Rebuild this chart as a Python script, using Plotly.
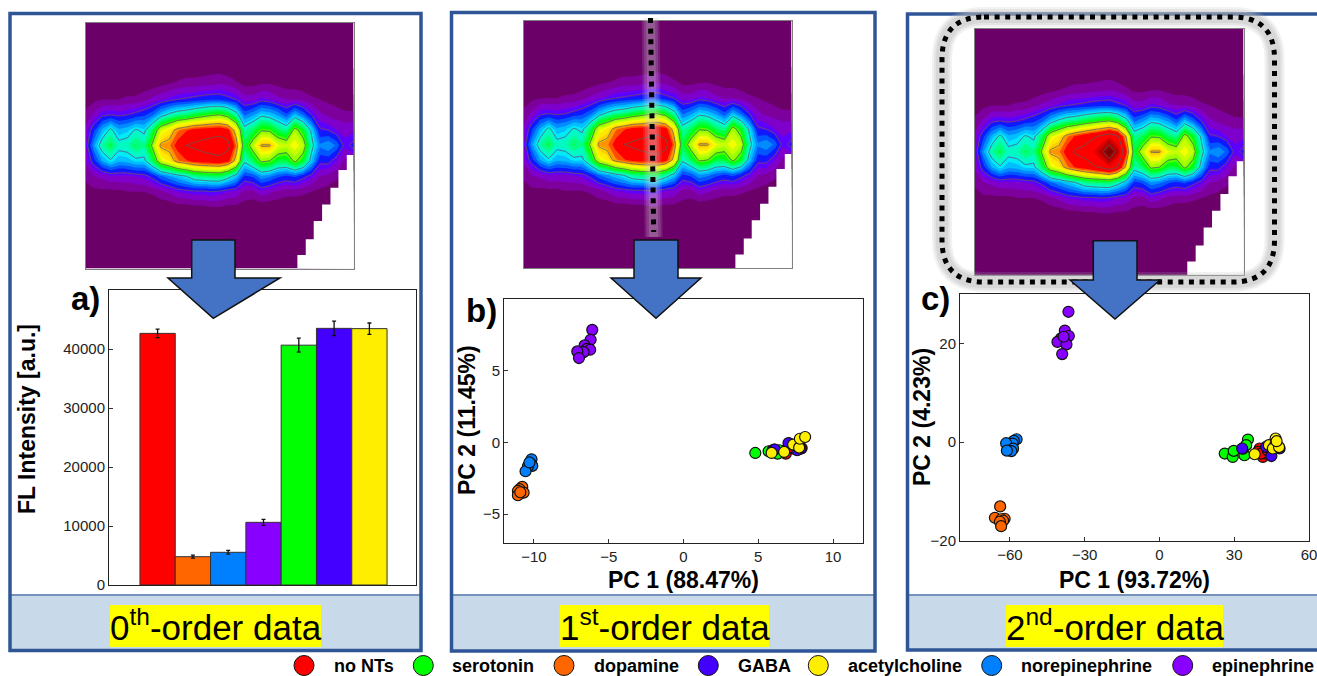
import plotly.graph_objects as go

W, H = 1317, 676
FONT = "Liberation Sans"

# ---- legend / groups
names = ["no NTs", "serotonin", "dopamine", "GABA", "acetylcholine", "norepinephrine", "epinephrine"]
colors = ["#ff0000", "#00ff00", "#ff6600", "#4400ff", "#ffee00", "#0080ff", "#8800ff"]
legend_marker_x = [304, 423.3, 564, 708.3, 818.3, 991.7, 1182.7]
legend_text_x = [332, 450, 591.7, 735.7, 845.7, 1019.3, 1210]

# ---- bars (panel a)
bar_names = ["no NTs", "dopamine", "norepinephrine", "epinephrine", "serotonin", "GABA", "acetylcholine"]
bar_values = [42650, 4800, 5540, 10620, 40650, 43500, 43450]
bar_errors = [735, 250, 320, 500, 1190, 1240, 960]
bar_colors = ["#ff0000", "#ff6600", "#0080ff", "#8800ff", "#00ff00", "#4400ff", "#ffee00"]

# ---- PCA scores, panel b
b_none_x = [6.84, 6.73, 7.07, 7.4, 6.96, 7.9]
b_none_y = [-0.79, -0.6, -0.09, -0.44, -0.42, -0.4]
b_sero_x = [4.8, 5.69, 6.07, 6.4, 6.29, 7.5]
b_sero_y = [-0.74, -0.62, -0.51, -0.55, -0.79, -0.2]
b_dopa_x = [-10.78, -10.96, -11.07, -10.69, -11.07, -10.91]
b_dopa_y = [-3.10, -3.26, -3.38, -3.50, -3.68, -3.47]
b_gaba_x = [5.96, 7.02, 7.84, 7.6, 7.4, 6.1]
b_gaba_y = [-0.55, -0.05, -0.44, -0.55, -0.2, -0.5]
b_acet_x = [5.89, 6.73, 7.33, 7.73, 7.78, 8.13]
b_acet_y = [-0.74, -0.67, -0.16, -0.37, 0.25, 0.37]
b_nore_x = [-10.16, -10.22, -10.11, -10.4, -10.56, -10.3]
b_nore_y = [-1.18, -1.48, -1.64, -1.67, -2.01, -1.4]
b_epin_x = [-6.10, -6.21, -6.61, -6.46, -6.24, -6.68, -7.10, -6.99]
b_epin_y = [7.82, 7.13, 6.74, 6.50, 6.44, 6.27, 6.32, 5.86]

# ---- PCA scores, panel c
c_none_x = [40.2, 39.5, 41.5, 42.6, 40.8, 43.5]
c_none_y = [-1.28, -1.97, -2.98, -2.3, -2.3, -1.7]
c_sero_x = [26.2, 29.4, 29.8, 35.5, 34.1, 33.5, 34.8]
c_sero_y = [-2.3, -2.98, -1.76, 0.54, -2.64, -1.3, -0.6]
c_dopa_x = [-63.9, -66.0, -62.1, -63.4, -62.7, -64.0, -63.5]
c_dopa_y = [-13.0, -15.3, -15.5, -15.6, -15.9, -16.1, -17.0]
c_gaba_x = [33.2, 44.9, 48.2, 42.8, 46.0, 47.0]
c_gaba_y = [-1.28, -2.8, -1.28, -0.95, -0.6, -1.0]
c_acet_x = [38.2, 46.6, 43.9, 46.6, 45.5, 48.0, 47.0]
c_acet_y = [-2.44, 0.75, -0.6, -0.27, -1.28, -1.0, 0.2]
c_nore_x = [-57.3, -58.4, -58.9, -61.5, -58.7, -59.4, -61.2]
c_nore_y = [0.6, 0.27, -0.27, -0.2, -1.3, -1.8, -1.7]
c_epin_x = [-36.5, -37.95, -36.35, -39.55, -40.9, -37.3, -39.0, -38.4]
c_epin_y = [26.4, 22.6, 21.5, 21.0, 20.3, 19.8, 17.84, 21.35]

# ---- excitation/emission map, rows bottom to top
map_columns = list(range(33))
map_rows = list(range(17))
r0 = [0] * 33
r1 = [0] * 33
r2 = [0] * 33
r3 = [1,1,1,2,2,2,2,2,2,2,3,3,3,4,4,4,4,4,3,3,3,3,3,3,3,3,2,2,1,1,1,1,1]
r4 = [3,4,4,5,5,5,5,5,5,6,6,7,7,8,8,9,9,8,8,7,6,6,6,6,5,5,5,4,3,3,2,2,2]
r5 = [7,8,8,8,8,9,9,9,10,12,14,17,18,19,19,20,19,17,16,12,12,16,14,12,11,11,10,9,8,7,6,5,5]
r6 = [10,13,14,16,16,16,17,18,22,28,32,36,40,46,48,49,50,44,36,24,26,32,30,26,24,26,22,18,13,12,10,8,8]
r7 = [14,23,33,39,34,35,38,38,50,68,74,84,88,92,94,95,96,92,76,42,50,62,60,52,52,62,54,36,22,22,17,12,12]
r8 = [16,32,45,51,43,44,50,46,62,82,84,92,100,102,104,106,108,104,85,52,66,81,81,70,67,72,66,43,30,33,28,18,22]
r9 = [14,24,34,42,34,36,41,38,50,68,74,84,88,92,93,94,95,92,75,44,50,59,58,50,46,64,54,38,21,20,17,16,16]
r10 = [10,14,19,20,19,20,22,24,28,36,42,46,48,52,55,58,60,55,44,28,32,38,36,32,26,35,28,20,14,12,11,10,10]
r11 = [7,8,9,9,9,10,10,12,14,16,18,20,21,22,23,24,24,22,20,15,15,18,17,14,13,13,12,10,9,8,7,6,6]
r12 = [3,4,5,5,5,5,6,6,7,8,9,10,11,11,12,12,13,12,10,8,8,9,9,8,7,7,6,5,5,5,4,3,3]
r13 = [1,1,2,2,2,2,2,3,4,4,5,5,6,6,6,7,7,6,5,4,4,5,5,4,4,3,3,2,2,1,1,1,1]
r14 = [0,0,0,0,0,0,0,0,0,0,1,2,2,3,3,3,3,2,1,1,1,1,1,0,0,0,0,0,0,0,0,0,0]
r15 = [0] * 33
r16 = [0] * 33
r7_c = [14,23,33,39,34,35,38,38,50,68,74,84,90,94,98,102,108,100,78,44,50,62,60,52,52,62,54,36,22,22,17,12,12]
r8_c = [16,32,45,51,43,44,50,46,62,82,84,93,102,104,108,116,130,116,92,53,66,81,81,70,67,72,66,43,30,33,28,18,22]
r9_c = [14,24,34,42,34,36,41,38,50,68,74,84,90,94,98,102,108,102,80,46,50,59,58,50,46,64,54,38,21,20,17,16,16]
z_first = [r0,r1,r2,r3,r4,r5,r6,r7,r8,r9,r10,r11,r12,r13,r14,r15,r16]
z_second = [r0,r1,r2,r3,r4,r5,r6,r7_c,r8_c,r9_c,r10,r11,r12,r13,r14,r15,r16]

# blank (unmeasured) corner of the map: each step runs from its left edge to the map's right side
blank_left = [25.3, 26.3, 27.25, 28.25, 29.25, 30.2, 31.2]
blank_top = [0.87, 1.91, 3.09, 4.17, 5.26, 6.41, 7.39]
map_right = 32

map_scale = [
    [0.000, "#6a0068"], [0.046, "#6a0068"], [0.070, "#7c0090"], [0.108, "#8000c8"],
    [0.135, "#7000ff"], [0.160, "#1800ff"], [0.190, "#0040ff"], [0.246, "#00a0ff"],
    [0.292, "#00e8ff"], [0.338, "#00ffb0"], [0.385, "#00ff50"], [0.430, "#00ff00"],
    [0.477, "#90ff00"], [0.554, "#ffff00"], [0.615, "#ffc800"], [0.665, "#ff6000"],
    [0.700, "#ff0000"], [0.830, "#ff0000"], [0.885, "#c00000"], [1.000, "#700000"],
]


def xdom(a, b):
    return [a / W, b / W]


def ydom(top, bottom):
    return [1 - bottom / H, 1 - top / H]


fig = go.Figure()
layout = {}

AXIS_TICK = dict(tickfont=dict(family=FONT, size=15, color="#222"), ticks="inside", ticklen=4,
                 tickcolor="#333", showline=True, linecolor="#222", linewidth=1, mirror=True,
                 showgrid=False, zeroline=False, ticklabeloverflow="allow")

# maps
map_boxes = [(85.5, 353.5, 22.5, 268.5, z_first), (523.5, 791.5, 21, 268, z_first), (975, 1243.5, 28.5, 275, z_second)]
for n, (l, r, t, b, z) in enumerate(map_boxes, start=1):
    xa, ya = f"x{n}", f"y{n}"
    fig.add_trace(go.Contour(x=map_columns, y=map_rows, z=z, xaxis=xa, yaxis=ya, zmin=0, zmax=130,
                             colorscale=map_scale, showscale=False, hoverinfo="skip",
                             contours=dict(coloring="fill", start=1, end=133, size=4),
                             line=dict(width=0, smoothing=0)))
    fig.add_trace(go.Contour(x=map_columns, y=map_rows, z=z, xaxis=xa, yaxis=ya, showscale=False,
                             hoverinfo="skip", contours=dict(coloring="none", start=20, end=120, size=20),
                             line=dict(width=0.8, color="#5a5a5a", smoothing=0)))
    fig.add_trace(go.Bar(x=[(e + map_right) / 2 for e in blank_left], y=blank_top,
                         width=[map_right - e for e in blank_left], xaxis=xa, yaxis=ya, hoverinfo="skip",
                         marker=dict(color="white", line=dict(width=0))))
    layout[f"xaxis{n}"] = dict(domain=xdom(l, r), range=[0, 32], anchor=ya, showticklabels=False, ticks="",
                               showgrid=False, zeroline=False, showline=True, linecolor="#808080", linewidth=1, mirror=True)
    layout[f"yaxis{n}"] = dict(domain=ydom(t, b), range=[0, 16], anchor=xa, showticklabels=False, ticks="",
                               showgrid=False, zeroline=False, showline=True, linecolor="#808080", linewidth=1, mirror=True)

# bars
fig.add_trace(go.Bar(x=bar_names, y=bar_values, xaxis="x4", yaxis="y4", width=1,
                     marker=dict(color=bar_colors, line=dict(color="#333", width=1)),
                     error_y=dict(type="data", array=bar_errors, color="#111", thickness=1.3, width=2)))
layout["xaxis4"] = dict(domain=xdom(109, 416), range=[-1.377, 7.32], anchor="y4", type="category",
                        categoryorder="array", categoryarray=bar_names, showticklabels=False, ticks="",
                        showgrid=False, zeroline=False, showline=True, linecolor="#222", linewidth=1, mirror=True)
layout["yaxis4"] = dict(domain=ydom(290, 585), range=[0, 50000], anchor="x4", tickvals=[0, 10000, 20000, 30000, 40000],
                        tickformat="d", **AXIS_TICK)

# scatters
groups_b = [(b_none_x, b_none_y), (b_sero_x, b_sero_y), (b_dopa_x, b_dopa_y), (b_gaba_x, b_gaba_y),
            (b_acet_x, b_acet_y), (b_nore_x, b_nore_y), (b_epin_x, b_epin_y)]
groups_c = [(c_none_x, c_none_y), (c_sero_x, c_sero_y), (c_dopa_x, c_dopa_y), (c_gaba_x, c_gaba_y),
            (c_acet_x, c_acet_y), (c_nore_x, c_nore_y), (c_epin_x, c_epin_y)]
for idx, groups in ((5, groups_b), (6, groups_c)):
    for name, col, (gx, gy) in zip(names, colors, groups):
        fig.add_trace(go.Scatter(x=gx, y=gy, mode="markers", name=name, xaxis=f"x{idx}", yaxis=f"y{idx}",
                                 marker=dict(size=11, color=col, line=dict(color="#111", width=1.2))))
layout["xaxis5"] = dict(domain=xdom(504, 863), range=[-12, 12], anchor="y5", tickvals=[-10, -5, 0, 5, 10], **AXIS_TICK)
layout["yaxis5"] = dict(domain=ydom(298.5, 543), range=[-7, 10], anchor="x5", tickvals=[-5, 0, 5], **AXIS_TICK)
layout["xaxis6"] = dict(domain=xdom(960, 1309), range=[-80, 60], anchor="y6", tickvals=[-60, -30, 0, 30, 60], **AXIS_TICK)
layout["yaxis6"] = dict(domain=ydom(294, 541), range=[-20, 30], anchor="x6", tickvals=[-20, 0, 20], **AXIS_TICK)

# page-wide overlay: legend dots
fig.add_trace(go.Scatter(x=legend_marker_x, y=[665.5] * 7, mode="markers", xaxis="x7", yaxis="y7",
                         text=names, hoverinfo="text", cliponaxis=False,
                         marker=dict(size=20, color=colors, line=dict(color="#111", width=1))))
layout["xaxis7"] = dict(domain=[0, 1], range=[0, W], anchor="y7", visible=False)
layout["yaxis7"] = dict(domain=[0, 1], range=[H, 0], anchor="x7", visible=False)


def shape(**kw):
    base = dict(xref="x7", yref="y7", layer="above")
    base.update(kw)
    return base


shapes = []
NAVY = "#2f5597"
FOOT = "#c8d9ea"
panels = [(10, 421, 13.5, 650.5), (451.5, 875, 12.5, 651), (907.5, 1340, 14, 650)]
for l, r, t, b in panels:
    shapes.append(shape(type="rect", x0=l, x1=min(r, W), y0=596, y1=b, fillcolor=FOOT, line=dict(width=0)))
    shapes.append(shape(type="line", x0=l, x1=min(r, W), y0=595, y1=595, line=dict(color="#4a6fa5", width=1.5)))
    shapes.append(shape(type="rect", x0=l, x1=r, y0=t, y1=b, line=dict(color=NAVY, width=3.5)))
for x0, x1 in ((110, 321), (559.7, 769), (1006, 1223)):
    shapes.append(shape(type="rect", x0=x0, x1=x1, y0=605, y1=647, fillcolor="#ffff00", line=dict(width=0)))

# vertical line of panel b with its glow
for w, a in ((18, 0.14), (14, 0.16), (9, 0.18)):
    shapes.append(shape(type="line", x0=650.5, x1=653.7, y0=18, y1=237, line=dict(color=f"rgba(215,215,215,{a})", width=w)))
shapes.append(shape(type="line", x0=650.5, x1=653.7, y0=18, y1=232, line=dict(color="#000", width=5, dash="5px,5.6px")))

# rounded outline of panel c with its glow
L, R, T, B, C = 942, 1274.5, 17, 282, 42
rr = (f"M {L+C},{T} L {R-C},{T} Q {R},{T} {R},{T+C} L {R},{B-C} Q {R},{B} {R-C},{B} "
      f"L {L+C},{B} Q {L},{B} {L},{B-C} L {L},{T+C} Q {L},{T} {L+C},{T} Z")
for w, a in ((20, 0.18), (16, 0.24), (12, 0.3)):
    shapes.append(shape(type="path", path=rr, line=dict(color=f"rgba(185,185,185,{a})", width=w)))
shapes.append(shape(type="path", path=rr, line=dict(color="#000", width=5, dash="5px,5.6px")))

# arrows
for sl, sr, top, head, hl, hr, tx, ty in ((191.7, 235, 240, 278, 168, 280, 213.3, 318.3),
                                          (634, 678, 240, 278, 611, 701, 656, 318.3),
                                          (1093.3, 1137, 240.7, 280, 1070, 1160, 1115, 319)):
    p = f"M {sl},{top} L {sr},{top} L {sr},{head} L {hr},{head} L {tx},{ty} L {hl},{head} L {sl},{head} Z"
    shapes.append(shape(type="path", path=p, fillcolor="#4472c4", line=dict(color="#111", width=1.5)))


def note(x, y, text, size, bold=False, anchor="center", angle=0, color="#000"):
    t = f"<b>{text}</b>" if bold else text
    return dict(xref="x7", yref="y7", x=x, y=y, text=t, showarrow=False, xanchor=anchor, yanchor="middle",
                textangle=angle, font=dict(family=FONT, size=size, color=color))


annotations = [
    note(85, 298, "a)", 33, True), note(481, 310, "b)", 33, True), note(935, 298, "c)", 33, True),
    note(27, 419, "FL Intensity [a.u.]", 23, True, angle=-90),
    note(467, 420, "PC 2 (11.45%)", 23, True, angle=-90),
    note(922, 417, "PC 2 (4.23%)", 23, True, angle=-90),
    note(683.5, 580, "PC 1 (88.47%)", 23, True),
    note(1134.5, 580, "PC 1 (93.72%)", 23, True),
    note(215.5, 625, "0<sup>th</sup>-order data", 35),
    note(664.5, 625, "1<sup>st</sup>-order data", 35),
    note(1114.5, 625, "2<sup>nd</sup>-order data", 35),
]
for tx, nm in zip(legend_text_x, names):
    annotations.append(note(tx, 665.5, nm, 18, True, anchor="left"))

fig.update_layout(width=W, height=H, margin=dict(l=0, r=0, t=0, b=0, autoexpand=False), showlegend=False,
                  paper_bgcolor="white", plot_bgcolor="rgba(0,0,0,0)", font=dict(family=FONT),
                  shapes=shapes, annotations=annotations, **layout)

fig.write_html("out.html", config={"displayModeBar": False},
               post_script="document.body.style.margin='0';document.body.style.overflow='hidden';")
